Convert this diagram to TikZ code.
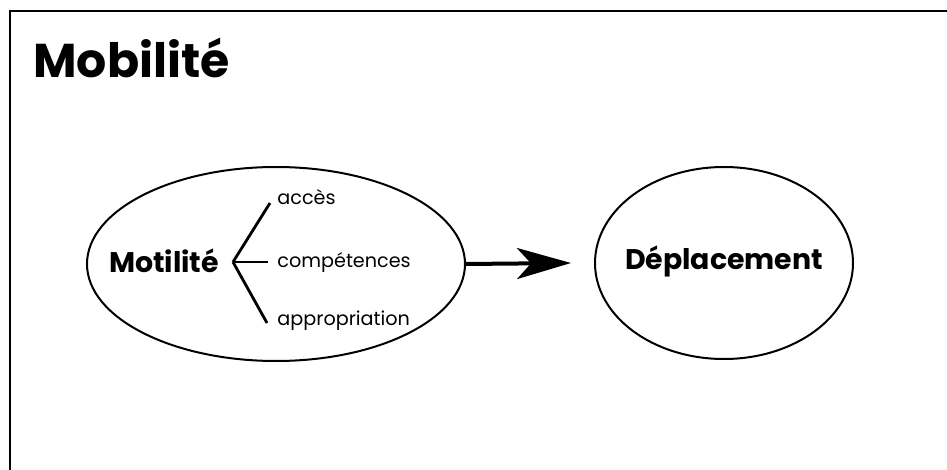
\documentclass[tikz,border=0pt]{standalone}
\usepackage{fontspec}
\setmainfont{Poppins}
\usepackage{tikz}
\usetikzlibrary{arrows.meta,positioning,calc,shapes.geometric}
\definecolor{ink}{RGB}{0,0,0}
\tikzset{
  frame/.style={draw=ink, line width=1.3pt},
  bubble/.style={draw=ink, line width=1pt, ellipse, inner sep=0pt},
  title/.style={font=\bfseries\fontsize{23.7}{26}\selectfont, anchor=west, inner sep=0pt},
  concept/.style={font=\bfseries\fontsize{14.2}{16}\selectfont, inner sep=0pt},
  item/.style={font=\fontsize{9.6}{11}\selectfont, anchor=west, inner sep=0pt},
  branch/.style={draw=ink, line width=1.4pt},
  twig/.style={draw=ink, line width=0.6pt},
  flow/.style={draw=ink, line width=2pt, -{Stealth[length=27pt, width=15.5pt, inset=7pt]}}
}
\begin{document}
\begin{tikzpicture}[x=0.5pt, y=-0.5pt]
  \useasboundingbox (0,0) rectangle (947,470);
  % cadre
  \draw[frame] (947,11) -- (10,11) -- (10,470);
  \node[title] (ttl) at (33,58) {Mobilité};
  % ellipses
  \node[bubble, minimum width=189pt, minimum height=97pt] (mot) at (276,264) {};
  \node[bubble, minimum width=129pt, minimum height=96pt] (dep) at (724,263) {};
  \node[concept] (motl) at (164,261) {Motilité};
  \node[concept] (depl) at (724,261) {Déplacement};
  % branches
  \coordinate (fork) at (233,262);
  \node[item] (acc) at (277,197) {accès};
  \node[item] (comp) at (277,262) {compétences};
  \node[item] (app) at (277,321) {appropriation};
  \draw[branch] (fork) -- ($(acc.west)+(-7,6)$);
  \draw[twig] (fork) -- ($(comp.west)+(-9,0)$);
  \draw[branch] (fork) -- ($(app.west)+(-10,2)$);
  \draw[flow] (mot.east) -- ($(dep.west)+(-23,0)$);
\end{tikzpicture}
\end{document}
